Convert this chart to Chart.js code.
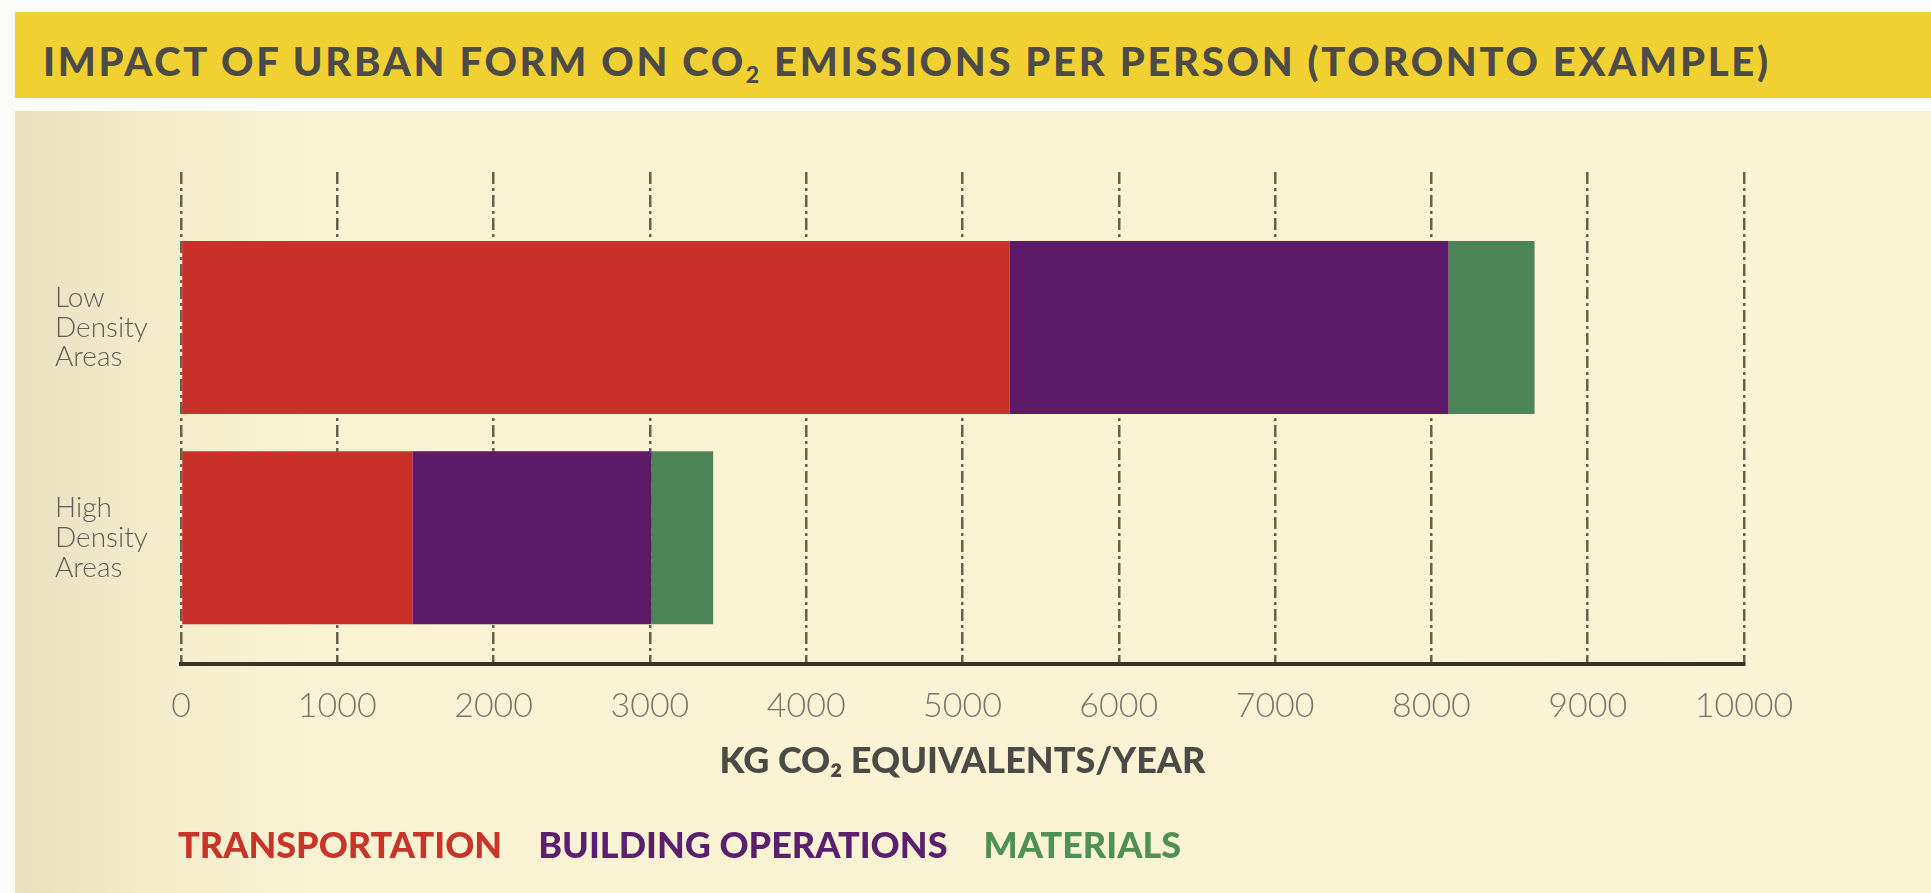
<!DOCTYPE html>
<html>
<head>
<meta charset="utf-8">
<script src="https://cdn.jsdelivr.net/npm/chart.js@4"></script>
<style>
  html, body { margin: 0; padding: 0; }
  body { width: 1931px; height: 893px; background: #fbfbf8; position: relative; overflow: hidden; }
  #band { position: absolute; left: 15px; top: 12px; right: 0; height: 86px; background: #f1d032; }
  #title { position: absolute; left: 43px; top: 38px; font-family: Lato, sans-serif; letter-spacing: 2.7px;
           font-weight: 900; font-size: 40px; color: #4c4b47; white-space: nowrap; line-height: 46px; }
  #title sub { font-size: 23px; vertical-align: -7px; line-height: 0; }
  #panel { position: absolute; left: 15px; top: 111px; right: 0; bottom: 0;
           background: linear-gradient(to right, #e9e0c0 0px, #f3ebc9 130px, #faf3d3 300px, #fbf4d4 100%); }
  #chartCanvas { position: absolute; left: 15px; top: 111px; }
</style>
</head>
<body>
<div id="band"></div>
<div id="title">IMPACT OF URBAN FORM ON CO<sub>2</sub> EMISSIONS PER PERSON (TORONTO EXAMPLE)</div>
<div id="panel"></div>
<canvas id="chartCanvas" width="1916" height="782"></canvas>
<script>
const categories = [['Low', 'Density', 'Areas'], ['High', 'Density', 'Areas']];
const seriesNames = ['TRANSPORTATION', 'BUILDING OPERATIONS', 'MATERIALS'];
const transportation = [5300, 1480];
const buildingOps = [2810, 1530];
const materials = [550, 395];
const tickValues = [0, 1000, 2000, 3000, 4000, 5000, 6000, 7000, 8000, 9000, 10000];
const axisTitle = 'KG CO\u2082 EQUIVALENTS/YEAR';

const barColors = ['#c9302a', '#5d1a69', '#4b8456'];
const textColors = ['#c8332a', '#5a1f6e', '#4e9152'];

function toPoints(values) {
    return values.map((v, i) => ({ x: v, y: i }));
}

// push legend over so it lines up under the plot, like the original
const shiftLegend = {
    id: 'shiftLegend',
    afterLayout(chart) {
        chart.legend.left += 87;
    }
};

const canvas = document.getElementById('chartCanvas');
new Chart(canvas, {
    type: 'bar',
    data: {
        datasets: [
            { label: seriesNames[0], data: toPoints(transportation), backgroundColor: barColors[0] },
            { label: seriesNames[1], data: toPoints(buildingOps), backgroundColor: barColors[1] },
            { label: seriesNames[2], data: toPoints(materials), backgroundColor: barColors[2] }
        ]
    },
    options: {
        indexAxis: 'y',
        responsive: false,
        devicePixelRatio: 1,
        animation: false,
        categoryPercentage: 1,
        barPercentage: 0.823,
        layout: { padding: { left: 40, top: 61, right: 187, bottom: 19 } },
        scales: {
            x: {
                type: 'linear',
                stacked: true,
                min: 0,
                max: 10000,
                afterBuildTicks: (axis) => { axis.ticks = tickValues.map(v => ({ value: v })); },
                afterFit: (axis) => { axis.height = 146; },
                grid: { color: '#67604f', lineWidth: 2.5, drawTicks: false },
                border: { display: true, color: '#3a3424', width: 4, dash: [12, 4, 3, 4] },
                ticks: {
                    padding: 22,
                    color: '#77766c',
                    font: { family: 'Lato', size: 34, weight: '300', lineHeight: 1.2 },
                    callback: (v) => String(v)
                },
                title: {
                    display: true,
                    text: axisTitle,
                    color: '#4a4a46',
                    font: { family: 'Lato', size: 36, weight: '900', lineHeight: 1.2 },
                    padding: { top: 0, bottom: 27 }
                }
            },
            y: {
                type: 'linear',
                stacked: true,
                reverse: true,
                offset: false,
                grace: 0,
                bounds: 'data',
                min: -0.74,
                max: 1.60,
                afterBuildTicks: (axis) => { axis.ticks = categories.map((c, i) => ({ value: i })); },
                afterFit: (axis) => { axis.width = 126; },
                grid: { display: false },
                border: { display: false },
                ticks: {
                    crossAlign: 'far',
                    color: '#5e5d57',
                    font: { family: 'Lato', size: 28, weight: '300', lineHeight: 1.06 },
                    callback: (v) => categories[v]
                }
            }
        },
        plugins: {
            tooltip: { enabled: false },
            legend: {
                position: 'bottom',
                align: 'start',
                labels: {
                    boxWidth: 0,
                    padding: 18,
                    font: { family: 'Lato', size: 36, weight: '900' },
                    generateLabels: (chart) => chart.data.datasets.map((ds, i) => ({
                        text: ds.label,
                        fontColor: textColors[i],
                        fillStyle: 'rgba(0,0,0,0)',
                        strokeStyle: 'rgba(0,0,0,0)',
                        lineWidth: 0,
                        hidden: false,
                        datasetIndex: i
                    }))
                }
            }
        }
    },
    plugins: [shiftLegend]
});
</script>
</body>
</html>
